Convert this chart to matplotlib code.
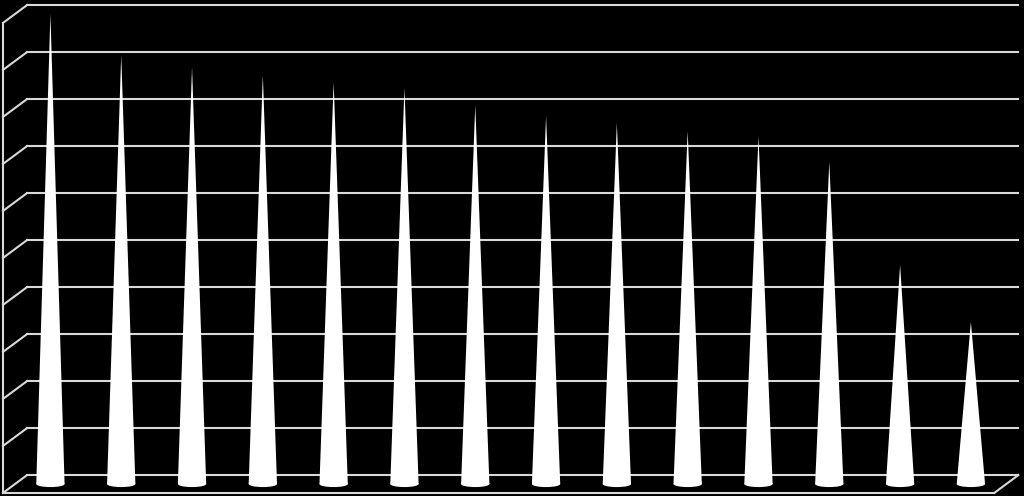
import matplotlib
matplotlib.use("Agg")
import matplotlib.pyplot as plt
import numpy as np
from matplotlib.patches import Polygon, Ellipse

# values read off the cones (axis 0..10, no labels shown)
values = [10.0, 9.13, 8.87, 8.70, 8.55, 8.43, 8.06, 7.83, 7.68, 7.51, 7.40, 6.85, 4.66, 3.45]
gridlines = list(range(0, 11))

n = len(values)
hx, hy = 0.17, 0.19      # half depth offset (x in category units, y in value units)
half_w = 0.2             # cone base half width
line_col = '#d9d9d9'

fig = plt.figure(figsize=(10.24, 4.96), dpi=100, facecolor='black')
ax = fig.add_axes([0, 0, 1, 1])
ax.set_facecolor('black')
ax.set_xlim(-0.712, 13.75)
ax.set_ylim(-0.255, 10.298)
ax.axis('off')

left, right = -0.5, n - 0.5

# back wall + side wall grid
for v in gridlines:
    ax.plot([left + hx, right + hx], [v + hy, v + hy], color=line_col, lw=1.5, zorder=1)
    ax.plot([left - hx, left + hx], [v - hy, v + hy], color=line_col, lw=1.5, zorder=1)

# front left edge
ax.plot([left - hx, left - hx], [-hy, gridlines[-1] - hy], color=line_col, lw=1.5, zorder=1)
# floor
ax.plot([left - hx, right - hx], [-hy, -hy], color=line_col, lw=1.5, zorder=1)
ax.plot([right - hx, right + hx], [-hy, hy], color=line_col, lw=1.5, zorder=1)

# cones
for i, v in enumerate(values):
    cone = Polygon([[i - half_w, 0], [i, v], [i + half_w, 0]], closed=True,
                   facecolor='white', edgecolor='none', zorder=3)
    ax.add_patch(cone)
    base = Ellipse((i, 0), 2 * half_w, 0.13, facecolor='white', edgecolor='none', zorder=3)
    ax.add_patch(base)

fig.savefig('out.png', dpi=100, facecolor='black')
